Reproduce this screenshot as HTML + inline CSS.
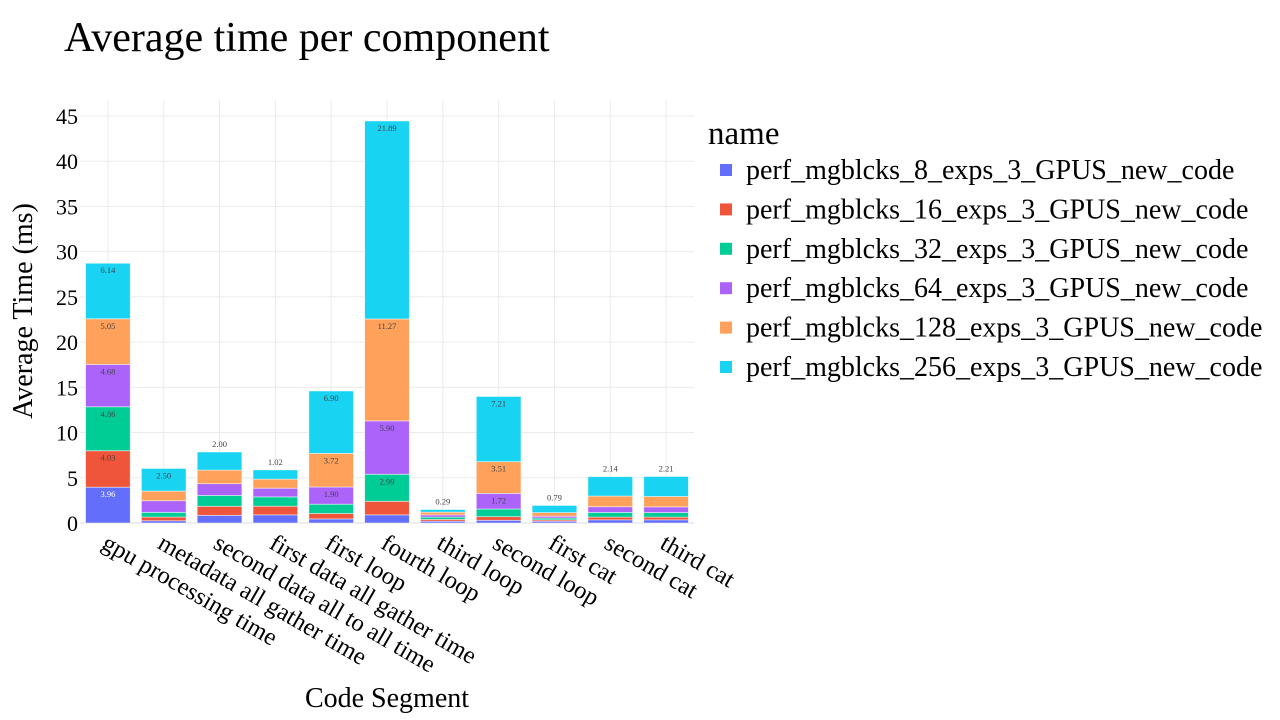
<!DOCTYPE html>
<html><head><meta charset="utf-8"><style>
html,body{margin:0;padding:0;background:#fff;width:1280px;height:720px;overflow:hidden}
svg{font-family:"Liberation Serif",serif}
</style></head><body>
<svg id="chart" width="1280" height="720" xmlns="http://www.w3.org/2000/svg">
<text x="64" y="51" font-size="42" fill="#000">Average time per component</text>
<g id="grid"></g>
<g id="bars"></g>
<g id="yaxis"></g>
<g id="xaxis"></g>
<text transform="translate(32,311) rotate(-90)" text-anchor="middle" font-size="28" fill="#000">Average Time (ms)</text>
<text x="387" y="707" text-anchor="middle" font-size="28" fill="#000">Code Segment</text>
<g id="legend">
<text x="708" y="144" font-size="33" fill="#000">name</text>
</g>
</svg>
<script>
const categories = ["gpu processing time","metadata all gather time","second data all to all time","first data all gather time","first loop","fourth loop","third loop","second loop","first cat","second cat","third cat"];
const seriesNames = ["perf_mgblcks_8_exps_3_GPUS_new_code","perf_mgblcks_16_exps_3_GPUS_new_code","perf_mgblcks_32_exps_3_GPUS_new_code","perf_mgblcks_64_exps_3_GPUS_new_code","perf_mgblcks_128_exps_3_GPUS_new_code","perf_mgblcks_256_exps_3_GPUS_new_code"];
const s8   = [3.96,0.25,0.85,0.90,0.45,0.90,0.20,0.30,0.20,0.35,0.35];
const s16  = [4.03,0.41,1.00,0.96,0.60,1.50,0.20,0.40,0.15,0.30,0.30];
const s32  = [4.86,0.52,1.20,1.03,1.03,2.99,0.25,0.85,0.20,0.52,0.50];
const s64  = [4.68,1.28,1.30,0.96,1.90,5.90,0.25,1.72,0.20,0.63,0.63];
const s128 = [5.05,1.07,1.50,1.00,3.72,11.27,0.30,3.51,0.40,1.18,1.15];
const s256 = [6.14,2.50,2.00,1.02,6.90,21.89,0.29,7.21,0.79,2.14,2.21];
const yTicks = [0,5,10,15,20,25,30,35,40,45];
const series = [s8,s16,s32,s64,s128,s256];
const colors = ["#636efa","#EF553B","#00cc96","#ab63fa","#FFA15A","#19d3f3"];
const NS="http://www.w3.org/2000/svg";
const X0=80, X1=694, Y0=523, YTOP=100, yMax=46.77;
const step=(X1-X0)/categories.length, bw=step*0.8;
const y = v => Y0 - v*(Y0-YTOP)/yMax;
const xc = i => X0 + step*(i+0.5);
function mk(tag, attrs, parent){const e=document.createElementNS(NS,tag);for(const k in attrs)e.setAttribute(k,attrs[k]);parent.appendChild(e);return e;}
const grid=document.getElementById('grid'), bars=document.getElementById('bars'), ya=document.getElementById('yaxis'), xa=document.getElementById('xaxis'), lg=document.getElementById('legend');
yTicks.forEach(t=>{
  const l=mk('line',{x1:X0,x2:X1,y1:y(t),y2:y(t),stroke:t===0?'#ddd':'#ebebeb','stroke-width':1},grid);
  
  
  const tx=mk('text',{x:78,y:y(t)+8,'text-anchor':'end','font-size':22,fill:'#000'},ya);
  tx.textContent=t;
  
  
});
categories.forEach((c,i)=>{
  const l=mk('line',{x1:xc(i),x2:xc(i),y1:YTOP,y2:Y0,stroke:'#ebebeb','stroke-width':1},grid);
  
  
  const tx=mk('text',{transform:`translate(${xc(i)+1},${533}) rotate(30)`,'font-size':24.5,fill:'#000','dominant-baseline':'hanging'},xa);
  tx.textContent=c;
  
  
});
categories.forEach((c,i)=>{
  let base=0;
  series.forEach((s,k)=>{
    const v=s[i], top=base+v, yt=y(top), yb=y(base), h=yb-yt;
    const r=mk('rect',{x:xc(i)-bw/2,y:yt,width:bw,height:h,fill:colors[k],stroke:'rgba(255,255,255,0.6)','stroke-width':0.8},bars);
    
    
    let ty=null;
    if(h>=15 && !(k===5 && h<20)) ty=yt+10;
    else if(k===5) ty=yt-5;
    if(ty!==null){
      const tx=mk('text',{x:xc(i),y:ty,'text-anchor':'middle','font-size':8.5,fill:(k===0?'#fff':'#444')},bars);
      tx.textContent=v.toFixed(2);
      
      
    }
    base=top;
  });
});
seriesNames.forEach((n,k)=>{
  const yy=170+k*39.4;
  const r=mk('rect',{x:720,y:yy-6,width:12,height:12,fill:colors[k]},lg);
  
  
  const tx=mk('text',{x:746,y:yy+9,'font-size':28,fill:'#000'},lg);
  tx.textContent=n;
  
  
});
</script>
</body></html>
